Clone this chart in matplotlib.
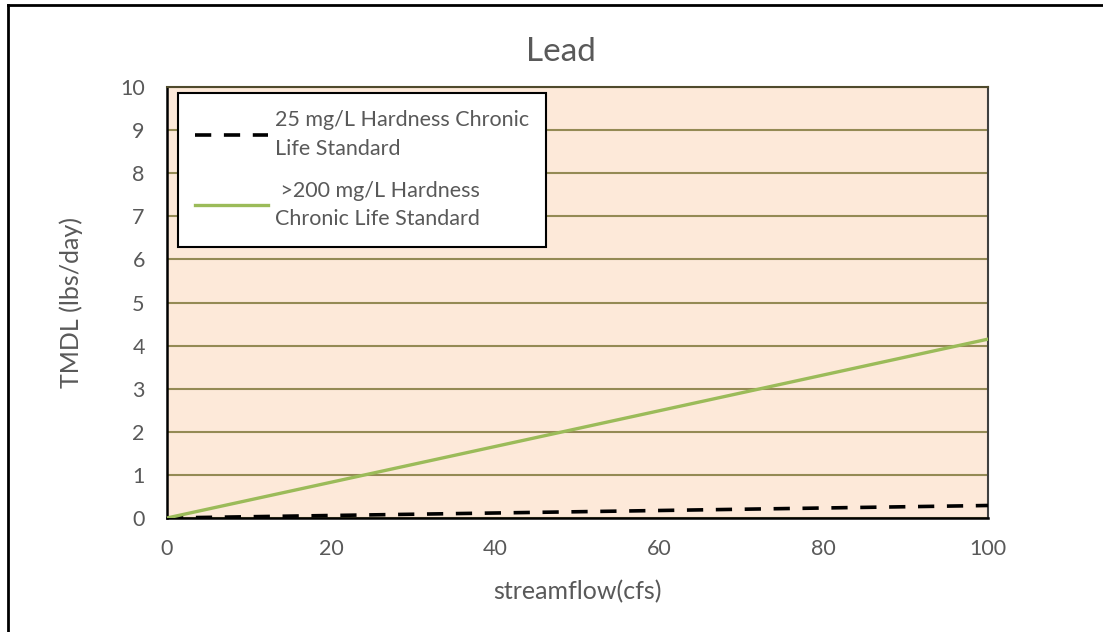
import matplotlib.pyplot as plt
from matplotlib.lines import Line2D

plt.rcParams['font.family'] = ['Lato', 'DejaVu Sans']

# data
flow = [0, 100]
hardness_25 = [0, 0.29]
hardness_200 = [0, 4.15]
x_ticks = [0, 20, 40, 60, 80, 100]
y_ticks = list(range(0, 11))

text_grey = '#595959'

fig = plt.figure(figsize=(11.03, 6.32), dpi=100)
ax = fig.add_axes([0.1514, 0.1804, 0.7443, 0.6819])
ax.set_facecolor('#fde9d9')

ax.plot(flow, hardness_25, color='black', linestyle=(0, (4.5, 3.5)), linewidth=2.6,
        label='25 mg/L Hardness Chronic\nLife Standard', zorder=3)
ax.plot(flow, hardness_200, color='#9bbb59', linewidth=2.4,
        label=' >200 mg/L Hardness\nChronic Life Standard', zorder=3)

ax.set_xlim(0, 100)
ax.set_ylim(0, 10)
ax.set_xticks(x_ticks)
ax.set_yticks(y_ticks)
ax.yaxis.grid(True, color='#948a54', linewidth=1.5)
ax.set_axisbelow(True)
ax.tick_params(length=0, labelsize=15.5, colors=text_grey)
ax.tick_params(axis='y', pad=16)
ax.tick_params(axis='x', pad=15)

for side in ['left', 'bottom']:
    ax.spines[side].set_color('black')
    ax.spines[side].set_linewidth(1.8)
ax.spines['right'].set_color('#404040')
ax.spines['right'].set_linewidth(1.5)
ax.spines['top'].set_color('#4f4a2c')
ax.spines['top'].set_linewidth(1.5)

ax.set_xlabel('streamflow(cfs)', fontsize=18, color=text_grey, labelpad=15)
ax.set_ylabel('TMDL (lbs/day)', fontsize=18, color=text_grey, labelpad=27)
fig.text(0.5086, 0.918, 'Lead', fontsize=24, color=text_grey,
         ha='center', va='center')

leg = ax.legend(loc='upper left', bbox_to_anchor=(0.0134, 0.986), borderaxespad=0,
                fontsize=15.5, frameon=True, fancybox=False, handlelength=3.4,
                labelspacing=1.0, borderpad=0.8, handletextpad=0.3,
                labelcolor=text_grey)
for txt in leg.get_texts():
    txt.set_linespacing(1.55)
leg.get_frame().set_edgecolor('black')
leg.get_frame().set_linewidth(1.5)
leg.get_frame().set_facecolor('white')
leg.get_frame().set_alpha(1)

# outer border of the chart (left and top edges)
fig.add_artist(Line2D([0.0077, 0.0077], [0, 0.992], transform=fig.transFigure,
                      color='black', linewidth=2))
fig.add_artist(Line2D([0.0077, 0.999], [0.992, 0.992], transform=fig.transFigure,
                      color='black', linewidth=2))

fig.savefig('out.png', dpi=100)
